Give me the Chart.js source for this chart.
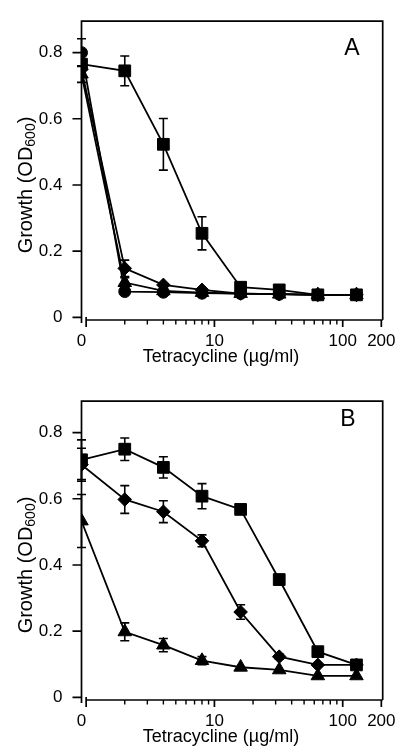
<!DOCTYPE html>
<html>
<head>
<meta charset="utf-8">
<script src="https://cdn.jsdelivr.net/npm/chart.js@4.4.1/dist/chart.umd.min.js"></script>
<style>
    body { margin: 0; background: #fff; }
    .panel { position: absolute; left: 0; }
</style>
</head>
<body>
<div class="panel" style="top:0"><canvas id="chartA" width="400" height="375"></canvas></div>
<div class="panel" style="top:380px"><canvas id="chartB" width="400" height="375"></canvas></div>
<script>
// tetracycline concentrations (ug/ml); 0 is drawn at the left edge of the log axis
const concentrations = [0, 2, 4, 8, 16, 32, 64, 128];
const xTickValues = [0, 10, 100, 200];
const xTickLabels = ['0', '10', '100', '200'];
const xMinorTicks = [2, 3, 4, 5, 6, 7, 8, 9, 20, 30, 40, 50, 60, 70, 80, 90];
const yTickValues = [0, 0.2, 0.4, 0.6, 0.8];
const ZERO_POS = 0.92;

// panel A
const aSquare = [0.765, 0.745, 0.523, 0.254, 0.091, 0.083, 0.068, 0.068];
const aSquareErr = [null, 0.045, 0.078, 0.05, null, null, null, null];
const aDiamond = [0.75, 0.148, 0.098, 0.083, 0.072, 0.07, 0.068, 0.068];
const aDiamondErr = [null, 0.025, null, null, null, null, null, null];
const aTriangle = [0.735, 0.105, 0.08, 0.075, 0.072, 0.07, 0.068, 0.068];
const aTriangleErr = [0.025, 0.015, null, null, null, null, null, null];
const aCircle = [0.80, 0.078, 0.076, 0.073, 0.072, 0.07, 0.068, 0.068];
const aCircleErr = [0.042, null, null, null, null, null, null, null];

// panel B
const bSquare = [0.718, 0.75, 0.695, 0.608, 0.568, 0.356, 0.138, 0.098];
const bSquareErr = [0.06, 0.034, 0.032, 0.038, 0.008, 0.015, null, null];
const bDiamond = [0.703, 0.598, 0.561, 0.473, 0.258, 0.123, 0.098, 0.098];
const bDiamondErr = [0.05, 0.042, 0.033, 0.018, 0.022, 0.008, null, null];
const bTriangle = [0.533, 0.198, 0.158, 0.111, 0.091, 0.083, 0.065, 0.065];
const bTriangleErr = [0.08, 0.027, 0.02, 0.012, null, null, null, null];

const FONT = '"Liberation Sans", Arial, Helvetica, sans-serif';

function series(values, errs, style, radius) {
    return {
        data: values.map((v, i) => ({ x: concentrations[i] === 0 ? ZERO_POS : concentrations[i], y: v })),
        errors: errs,
        borderColor: '#000',
        backgroundColor: '#000',
        borderWidth: 1.8,
        pointStyle: style,
        pointRadius: radius,
        pointBorderWidth: 1,
        pointBackgroundColor: '#000',
        pointBorderColor: '#000',
        tension: 0
    };
}

// frame, axis ticks, error bars and titles
const decorations = {
    id: 'decorations',
    beforeDatasetsDraw(chart) {
        const ctx = chart.ctx;
        const xs = chart.scales.x, ys = chart.scales.y;
        ctx.save();
        ctx.strokeStyle = '#000';
        ctx.lineWidth = 1.6;
        chart.data.datasets.forEach(ds => {
            ds.data.forEach((p, i) => {
                const e = ds.errors[i];
                if (e == null) return;
                const px = xs.getPixelForValue(p.x);
                const top = ys.getPixelForValue(p.y + e);
                const bot = ys.getPixelForValue(p.y - e);
                ctx.beginPath();
                ctx.moveTo(px, top); ctx.lineTo(px, bot);
                ctx.moveTo(px - 4.5, top); ctx.lineTo(px + 4.5, top);
                ctx.moveTo(px - 4.5, bot); ctx.lineTo(px + 4.5, bot);
                ctx.stroke();
            });
        });
        ctx.restore();
    },
    afterDraw(chart) {
        const ctx = chart.ctx;
        const a = chart.chartArea;
        const xs = chart.scales.x, ys = chart.scales.y;
        const opts = chart.options.plugins.decorations;
        ctx.save();
        ctx.strokeStyle = '#000';
        ctx.lineWidth = 1.7;
        // box: left, top, right
        ctx.beginPath();
        ctx.moveTo(a.left, a.bottom + 3);
        ctx.lineTo(a.left, a.top);
        ctx.lineTo(a.right, a.top);
        ctx.lineTo(a.right, a.bottom);
        ctx.stroke();
        // x axis line starts at 1
        const x1 = xs.getPixelForValue(1);
        ctx.beginPath();
        ctx.moveTo(x1, a.bottom);
        ctx.lineTo(a.right, a.bottom);
        ctx.stroke();
        // major x ticks
        ctx.beginPath();
        ctx.moveTo(x1, a.bottom - 3); ctx.lineTo(x1, a.bottom + 7);
        [10, 100, 200].forEach(v => {
            const px = xs.getPixelForValue(v);
            ctx.moveTo(px, a.bottom); ctx.lineTo(px, a.bottom + 7);
        });
        ctx.stroke();
        // minor x ticks
        ctx.lineWidth = 1.4;
        ctx.beginPath();
        xMinorTicks.forEach(v => {
            const px = xs.getPixelForValue(v);
            ctx.moveTo(px, a.bottom); ctx.lineTo(px, a.bottom + 4.5);
        });
        ctx.stroke();
        // y ticks
        ctx.lineWidth = 1.6;
        ctx.beginPath();
        yTickValues.forEach(v => {
            const py = ys.getPixelForValue(v);
            ctx.moveTo(a.left - 9, py); ctx.lineTo(a.left, py);
        });
        ctx.stroke();

        ctx.fillStyle = '#000';
        // panel letter
        ctx.font = '23px ' + FONT;
        ctx.textAlign = 'center';
        ctx.textBaseline = 'middle';
        ctx.fillText(opts.letter, opts.letterX, opts.letterY);

        // x title
        ctx.font = '18px ' + FONT;
        ctx.fillText('Tetracycline (\u00b5g/ml)', 221, 357);

        // y title with subscript
        ctx.translate(25, 185);
        ctx.rotate(-Math.PI / 2);
        const big = '20px ' + FONT, small = '14px ' + FONT;
        const p1 = 'Growth (OD', p2 = '600', p3 = ')';
        ctx.font = big; const w1 = ctx.measureText(p1).width, w3 = ctx.measureText(p3).width;
        ctx.font = small; const w2 = ctx.measureText(p2).width;
        let x = -(w1 + w2 + w3) / 2;
        ctx.textAlign = 'left';
        ctx.textBaseline = 'alphabetic';
        ctx.font = big; ctx.fillText(p1, x, 7); x += w1;
        ctx.font = small; ctx.fillText(p2, x, 10); x += w2;
        ctx.font = big; ctx.fillText(p3, x, 7);
        ctx.restore();
    }
};

function makeChart(id, datasets, letter, letterX, letterY) {
    return new Chart(document.getElementById(id).getContext('2d'), {
        type: 'line',
        data: { datasets: datasets },
        plugins: [decorations],
        options: {
            responsive: false,
            devicePixelRatio: 1,
            animation: false,
            layout: { padding: { left: 0, right: 17.3, top: 18, bottom: 0 } },
            plugins: {
                legend: { display: false },
                tooltip: { enabled: false },
                decorations: { letter: letter, letterX: letterX, letterY: letterY }
            },
            scales: {
                x: {
                    type: 'logarithmic',
                    min: ZERO_POS,
                    max: 205,
                    grid: { display: false },
                    border: { display: false },
                    afterBuildTicks: s => { s.ticks = xTickValues.map(v => ({ value: v === 0 ? ZERO_POS : v })); },
                    afterFit: s => { s.height = 55; },
                    ticks: {
                        autoSkip: false,
                        maxRotation: 0,
                        padding: 3,
                        color: '#000',
                        font: { family: FONT, size: 17 },
                        callback: (v, i) => xTickLabels[i]
                    }
                },
                y: {
                    min: -0.008,
                    max: 0.895,
                    grid: { display: false },
                    border: { display: false },
                    afterBuildTicks: s => { s.ticks = yTickValues.map(v => ({ value: v })); },
                    afterFit: s => { s.width = 81.5; },
                    ticks: {
                        padding: 11,
                        color: '#000',
                        font: { family: FONT, size: 17 },
                        callback: v => v === 0 ? '0' : v.toFixed(1)
                    }
                }
            }
        }
    });
}

makeChart('chartA', [
    series(aSquare, aSquareErr, 'rect', 8.3),
    series(aDiamond, aDiamondErr, 'rectRot', 6.8),
    series(aTriangle, aTriangleErr, 'triangle', 7.8),
    series(aCircle, aCircleErr, 'circle', 6)
], 'A', 352, 49);

makeChart('chartB', [
    series(bSquare, bSquareErr, 'rect', 8.3),
    series(bDiamond, bDiamondErr, 'rectRot', 6.8),
    series(bTriangle, bTriangleErr, 'triangle', 7.8)
], 'B', 348, 40);
</script>
</body>
</html>
